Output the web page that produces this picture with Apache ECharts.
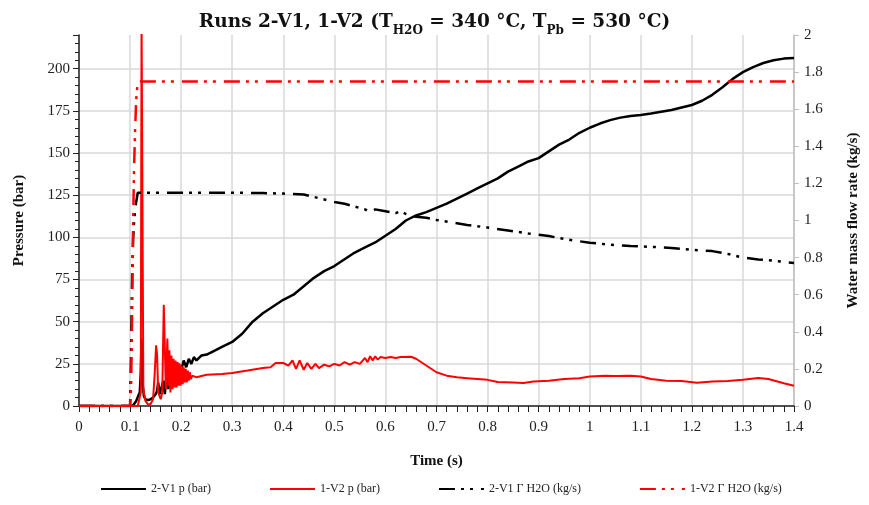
<!DOCTYPE html>
<html>
<head>
<meta charset="utf-8">
<script src="https://cdn.jsdelivr.net/npm/echarts@6/dist/echarts.min.js"></script>
<style>
html,body{margin:0;padding:0;background:#fff;}
#chart{width:869px;height:505px;}
</style>
</head>
<body>
<div id="chart"></div>
<script>
// ---- Data (time in s) ----
var timeTicks = [0, 0.1, 0.2, 0.3, 0.4, 0.5, 0.6, 0.7, 0.8, 0.9, 1, 1.1, 1.2, 1.3, 1.4];
var seriesNames = ['2-V1 p (bar)', '1-V2 p (bar)', '2-V1 \u0393 H2O (kg/s)', '1-V2 \u0393 H2O (kg/s)'];

// 2-V1 pressure (bar)
var p2V1 = [
  [0,0],[0.105,0],[0.108,1],[0.112,3],[0.116,6],[0.119,8],[0.121,20],[0.1225,40],[0.124,15],
  [0.127,6],[0.13,4],[0.135,3.5],[0.14,4],[0.145,5],[0.15,7],[0.153,9],[0.155,14],[0.158,7],
  [0.16,8],[0.165,15],[0.168,7],[0.172,20],[0.175,10],[0.178,22],[0.181,14],[0.185,24],[0.19,17],
  [0.195,25],[0.2,21],[0.205,27],[0.21,23],[0.215,28],[0.22,25],[0.225,29],[0.23,27],[0.24,30],
  [0.25,30.5],[0.26,32],[0.28,35],[0.3,38],[0.32,43],[0.34,50],[0.36,55],[0.38,59],[0.4,63],
  [0.42,66],[0.44,71],[0.46,76],[0.48,80],[0.5,83],[0.52,87],[0.54,91],[0.56,94],[0.58,97],
  [0.6,101],[0.62,105],[0.64,110],[0.66,113],[0.68,115],[0.7,117.5],[0.72,120],[0.74,123],
  [0.76,126],[0.78,129],[0.8,132],[0.82,135],[0.84,139],[0.86,142],[0.88,145],[0.9,147],
  [0.92,151],[0.94,155],[0.96,158],[0.98,162],[1.0,165],[1.02,167.5],[1.04,169.5],[1.06,171],
  [1.08,172],[1.1,172.6],[1.12,173.5],[1.14,174.5],[1.16,175.5],[1.18,177],[1.2,178.5],
  [1.22,181],[1.24,184.5],[1.26,189],[1.28,194],[1.3,198],[1.32,201],[1.34,203.4],[1.36,205],
  [1.38,206],[1.4,206.4]
];

// 1-V2 pressure (bar)
var p1V2 = [
  [0,0],[0.115,0],[0.118,0.5],[0.121,8],[0.1225,230],[0.1245,230],[0.126,10],[0.13,3],[0.135,1],
  [0.14,1],[0.145,4],[0.148,18],[0.151,36],[0.153,30],[0.155,8],[0.16,4],[0.163,8],[0.166,60],
  [0.168,35],[0.17,10],[0.173,40],[0.175,12],[0.177,33],[0.179,8],[0.181,30],[0.183,10],[0.185,28],
  [0.187,11],[0.189,27],[0.191,11],[0.193,26],[0.195,12],[0.197,25],[0.199,12],[0.201,24],
  [0.203,13],[0.205,23],[0.207,14],[0.209,22],[0.211,14],[0.213,21],[0.215,15],[0.217,20],
  [0.219,16],[0.222,18],[0.23,17],[0.25,18.5],[0.28,19],[0.3,19.6],[0.33,21],[0.36,22.5],
  [0.375,23],[0.385,25.5],[0.4,25.5],[0.41,24],[0.418,27],[0.425,22],[0.432,27],[0.44,21.5],
  [0.447,25.5],[0.455,22],[0.463,25],[0.47,22.5],[0.48,24.5],[0.49,23.5],[0.5,25],[0.51,24],
  [0.52,26],[0.53,24.5],[0.54,26],[0.55,25],[0.56,28.5],[0.565,26],[0.57,29.5],[0.575,27],
  [0.58,29.5],[0.585,27.5],[0.59,29],[0.6,28.5],[0.61,29],[0.62,28.5],[0.63,29],[0.65,29.2],
  [0.66,28],[0.68,24],[0.7,20],[0.72,18],[0.74,17],[0.76,16.5],[0.8,15.5],[0.82,14.2],[0.85,14],
  [0.87,13.6],[0.89,14.5],[0.92,15],[0.95,16],[0.98,16.5],[1.0,17.5],[1.03,18],[1.05,17.8],
  [1.08,18],[1.1,17.5],[1.12,16],[1.15,15],[1.18,14.8],[1.21,13.8],[1.24,14.5],[1.27,14.8],
  [1.3,15.5],[1.33,16.6],[1.35,16],[1.38,13.5],[1.4,12]
];

// 2-V1 water mass flow rate (kg/s)
var g2V1 = [
  [0,0],[0.1,0],[0.102,0.3],[0.104,0.7],[0.106,0.9],[0.108,1.0],[0.11,1.06],[0.112,1.1],
  [0.115,1.15],[0.3,1.15],[0.36,1.148],[0.4,1.145],[0.44,1.14],[0.46,1.127],[0.5,1.1],
  [0.52,1.09],[0.54,1.075],[0.56,1.06],[0.57,1.045],[0.58,1.06],[0.6,1.05],[0.62,1.04],
  [0.63,1.05],[0.64,1.035],[0.66,1.02],[0.68,1.015],[0.7,1.003],[0.76,0.976],[0.8,0.962],
  [0.84,0.946],[0.88,0.93],[0.92,0.916],[0.96,0.896],[1.0,0.88],[1.04,0.87],[1.08,0.862],
  [1.12,0.858],[1.16,0.852],[1.2,0.842],[1.24,0.835],[1.27,0.82],[1.3,0.8],[1.33,0.79],
  [1.36,0.783],[1.4,0.771]
];

// 1-V2 water mass flow rate (kg/s)
var g1V2 = [
  [0,0],[0.1,0],[0.102,0.1],[0.104,0.5],[0.106,1.0],[0.108,1.3],[0.11,1.5],[0.112,1.65],
  [0.115,1.75],[1.4,1.75]
];

var SERIF = '"Liberation Serif", "DejaVu Serif", serif';
var TSERIF = '"DejaVu Serif", "Liberation Serif", serif';
var chart = echarts.init(document.getElementById('chart'), null, {renderer: 'canvas'});
var dashDot = [16, 6, 3, 6, 3, 8];

chart.setOption({
  animation: false,
  backgroundColor: '#fff',
  title: {
    text: '{b|Runs 2-V1, 1-V2 (T}{s|H2O}{b| = 340 \u00B0C, T}{s|Pb}{b| = 530 \u00B0C)}',
    left: 'center',
    top: 2,
    textStyle: {
      rich: {
        b: {fontFamily: TSERIF, fontWeight: 'bold', fontSize: 18.5, color: '#111', lineHeight: 25, verticalAlign: 'bottom'},
        s: {fontFamily: TSERIF, fontWeight: 'bold', fontSize: 12, color: '#111', lineHeight: 18, verticalAlign: 'bottom', padding: [0,0,-5,0]}
      }
    }
  },
  legend: {
    bottom: 5,
    left: 95,
    itemWidth: 45,
    itemHeight: 10,
    itemGap: 58,
    itemStyle: {opacity: 0},
    textStyle: {fontFamily: SERIF, fontSize: 12, color: '#222'},
    data: seriesNames
  },
  grid: {left: 79, right: 72, top: 35, bottom: 99, containLabel: false},
  xAxis: {
    type: 'value', min: 0, max: 1.4, interval: 0.1,
    name: 'Time (s)', nameLocation: 'middle', nameGap: 48,
    nameTextStyle: {fontFamily: SERIF, fontWeight: 'bold', fontSize: 15, color: '#111'},
    axisLine: {show: true, lineStyle: {color: '#222', width: 1.5}},
    axisTick: {show: true, length: 6, lineStyle: {color: '#222'}},
    minorTick: {show: true, splitNumber: 5, length: 6, lineStyle: {color: '#222'}},
    axisLabel: {fontFamily: SERIF, fontSize: 15, color: '#222', margin: 14,
      formatter: function (v) { return timeTicks.indexOf(Math.round(v * 10) / 10) >= 0 ? String(Math.round(v * 10) / 10) : ''; }},
    splitLine: {show: true, lineStyle: {color: '#d9d9d9', width: 1.5}}
  },
  yAxis: [
    {
      type: 'value', min: 0, max: 220, interval: 25, position: 'left',
      name: 'Pressure (bar)', nameLocation: 'middle', nameGap: 52, nameRotate: 90,
      nameTextStyle: {fontFamily: SERIF, fontWeight: 'bold', fontSize: 15, color: '#111'},
      axisLine: {show: true, lineStyle: {color: '#222', width: 1.5}},
      axisTick: {show: true, length: 6, lineStyle: {color: '#222'}},
      minorTick: {show: true, splitNumber: 5, length: 4, lineStyle: {color: '#222'}},
      axisLabel: {fontFamily: SERIF, fontSize: 15, color: '#222', margin: 9, showMaxLabel: false},
      splitLine: {show: true, showMaxLine: false, lineStyle: {color: '#d9d9d9', width: 1.5}}
    },
    {
      type: 'value', min: 0, max: 2, interval: 0.2, position: 'right',
      name: 'Water mass flow rate (kg/s)', nameLocation: 'middle', nameGap: 52, nameRotate: 90,
      nameTextStyle: {fontFamily: SERIF, fontWeight: 'bold', fontSize: 15, color: '#111'},
      axisLine: {show: true, lineStyle: {color: '#bfbfbf', width: 1.5}},
      axisTick: {show: true, length: 5, lineStyle: {color: '#bfbfbf'}},
      axisLabel: {fontFamily: SERIF, fontSize: 15, color: '#222', margin: 10},
      splitLine: {show: false}
    }
  ],
  series: [
    {name: seriesNames[0], type: 'line', yAxisIndex: 0, data: p2V1, symbol: 'none', clip: true,
      lineStyle: {color: '#000', width: 2.5}, itemStyle: {color: '#000'}, z: 3},
    {name: seriesNames[1], type: 'line', yAxisIndex: 0, data: p1V2, symbol: 'none', clip: true,
      lineStyle: {color: '#ff0000', width: 2}, itemStyle: {color: '#ff0000'}, z: 4},
    {name: seriesNames[2], type: 'line', yAxisIndex: 1, data: g2V1, symbol: 'none', clip: true,
      lineStyle: {color: '#000', width: 2.5, type: dashDot}, itemStyle: {color: '#000'}, z: 5},
    {name: seriesNames[3], type: 'line', yAxisIndex: 1, data: g1V2, symbol: 'none', clip: true,
      lineStyle: {color: '#ff0000', width: 2.5, type: dashDot}, itemStyle: {color: '#ff0000'}, z: 6}
  ]
});
</script>
</body>
</html>
